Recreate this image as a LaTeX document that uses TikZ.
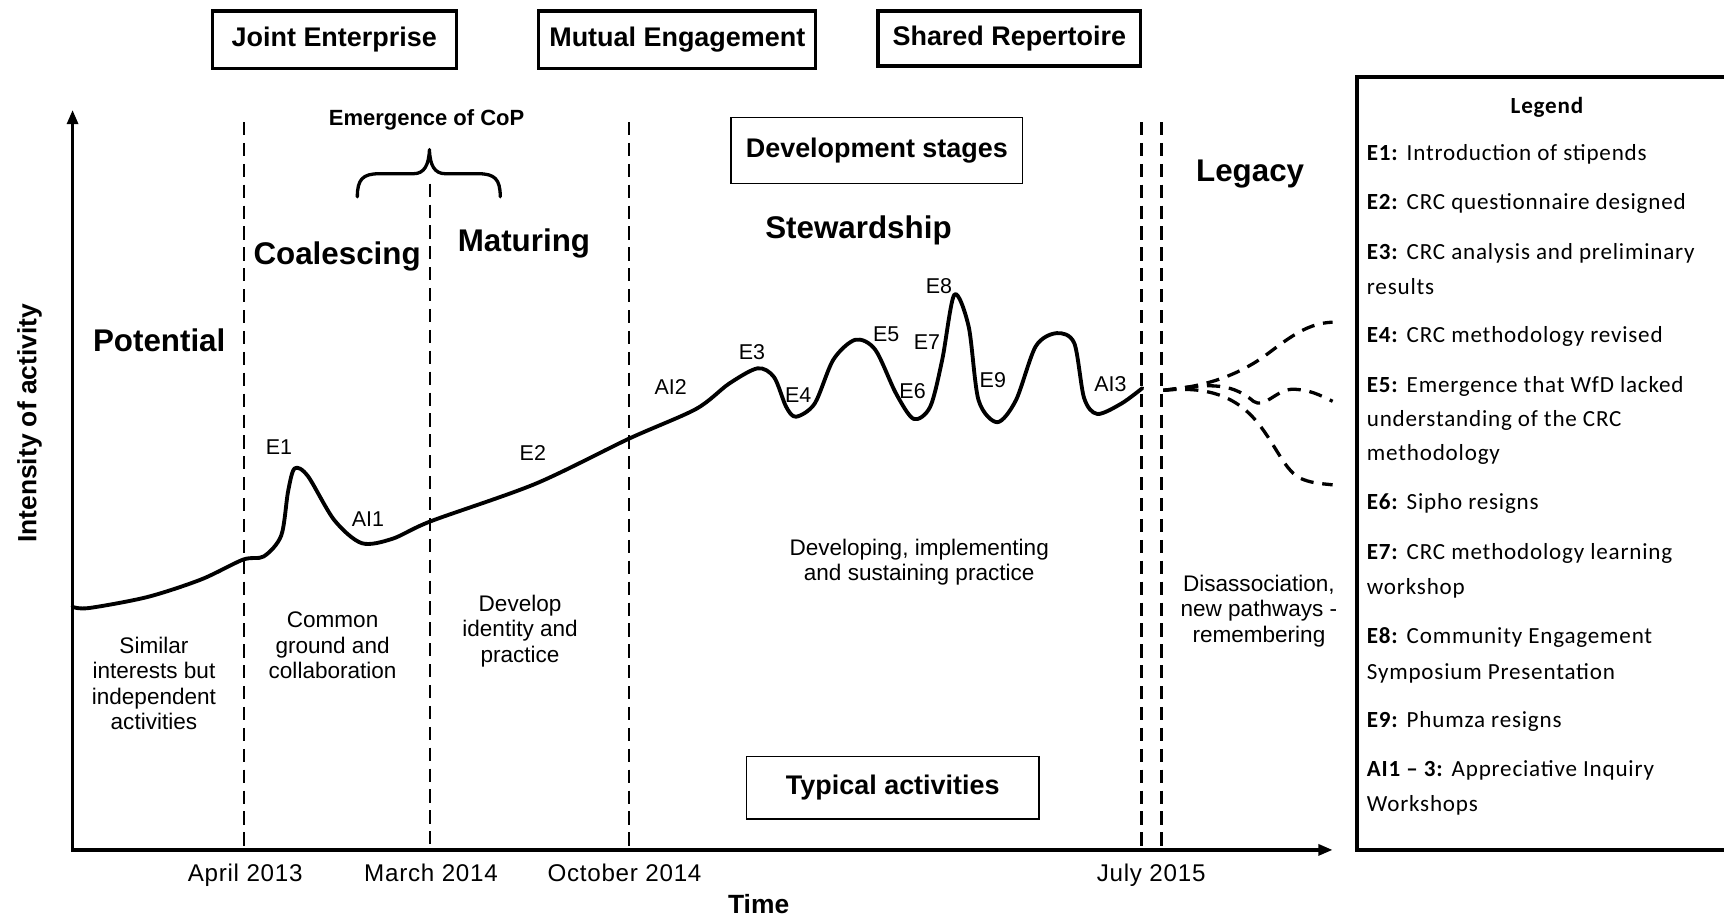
\documentclass[tikz,border=0pt]{standalone}
\usepackage{fontspec}
\setmainfont{Liberation Sans}
\newfontfamily\labelfont[LetterSpace=3]{Liberation Sans}
\newfontfamily\legendfont[LetterSpace=3.5]{Carlito}
\usetikzlibrary{arrows.meta}
\newcommand\fsz[2]{\fontsize{#1}{#2}\selectfont}

\begin{document}
\begin{tikzpicture}[x=1pt,y=-1pt,
  headbox/.style={draw, line width=3pt, font=\bfseries\fsz{24.5}{28}, inner sep=0pt, minimum height=52pt},
  infobox/.style={draw, line width=1.5pt, font=\bfseries\fsz{24.5}{28}, inner sep=0pt},
  stagelabel/.style={font=\bfseries\fsz{28.5}{32}, inner sep=0pt, anchor=base},
  eventlabel/.style={font=\fsz{19.5}{22}, inner sep=0pt, anchor=base},
  datelabel/.style={font=\labelfont\fsz{22}{24}, inner sep=0pt, anchor=base},
  axislabel/.style={font=\bfseries\fsz{24}{26}, inner sep=0pt, anchor=base},
  desc/.style={font=\fsz{20.5}{23.2}, align=center, inner sep=0pt, anchor=north},
  legendline/.style={font=\legendfont\fsz{21}{24}, inner sep=0pt, anchor=base west},
  stageline/.style={line width=2.5pt, dash pattern=on 12pt off 7pt},
  axis/.style={line width=3pt, line join=miter,
    {Triangle[length=13pt,width=10pt]}-{Triangle[length=13pt,width=10pt]}},
  activity/.style={line width=3.5pt, line join=round, line cap=round},
  pathway/.style={line width=3pt, dash pattern=on 12pt off 8pt},
]
\useasboundingbox (0,0) rectangle (1568,835);
\fill[white] (0,0) rectangle (1568,835);

% --- the three dimensions of a community of practice
\node[headbox, minimum width=222pt] (je) at (304,36) {Joint Enterprise};
\node[headbox, minimum width=252pt] (me) at (616,36) {Mutual Engagement};
\node[headbox, minimum width=239pt, minimum height=50pt] (sr) at (918,35) {Shared Repertoire};

% --- axes
\draw[axis] (66,100) -- (66,773) -- (1212,773);
\node[axislabel, rotate=90] (ylab) at (33,385) {Intensity of activity};
\node[axislabel] (xlab) at (690,831) {Time};

% --- stage boundaries
\draw[stageline] (222,111) -- (222,773);
\draw[stageline] (391,167) -- (391,773);
\draw[stageline] (572,111) -- (572,773);
\draw[stageline] (1038.5,111) -- (1038.5,773);
\draw[stageline] (1056.5,111) -- (1056.5,773);

\node[datelabel] (d1) at (223,802) {April 2013};
\node[datelabel] (d2) at (392,802) {March 2014};
\node[datelabel] (d3) at (568,802) {October 2014};
\node[datelabel] (d4) at (1047,802) {July 2015};

% --- emergence brace
\draw[line width=3pt, line cap=round, line join=round]
  (325,179) .. controls (325,163) and (330,158) .. (345,158) -- (376,158)
  .. controls (386,158) and (390,150) .. (390.6,136)
  .. controls (391,150) and (395,158) .. (405,158) -- (435,158)
  .. controls (450,158) and (455,163) .. (455,179);
\node[font=\bfseries\fsz{20}{22}, inner sep=0pt, anchor=base] (cop) at (388,113.7) {Emergence of CoP};

% --- stage names
\node[stagelabel] (potential) at (144.8,319.8) {Potential};
\node[stagelabel] (coalescing) at (306.6,241) {Coalescing};
\node[stagelabel] (maturing) at (476.5,229) {Maturing};
\node[stagelabel] (stewardship) at (780.8,216.7) {Stewardship};
\node[stagelabel] (legacy) at (1137,165) {Legacy};

\node[infobox, minimum width=265pt, minimum height=60pt] (devstages) at (797.5,137) {Development stages};
\node[infobox, minimum width=266pt, minimum height=57pt] (typical) at (812,716.5) {Typical activities};

% --- intensity of activity over time
\draw[activity] plot[smooth, tension=0.5] coordinates {
  (66,552) (81,553) (134,543) (183,527) (221,509) (240,506) (255.8,487)
  (262,447) (268,426) (280,433) (304,473) (329,494) (357,490) (392,474)
  (487,440) (572,399) (633,372) (663,349) (689,335) (704,343) (715,370)
  (724,379) (741,367) (758,327) (778,309) (796,318) (815,358) (831,381)
  (846,370) (857,327) (868,268) (881,297) (890,364) (907,384) (924,364)
  (942,315) (961,303) (977,312) (986,362) (998,376.5) (1020,367) (1039,353)};

% --- possible pathways after the community
\draw[pathway] (1058,355) .. controls (1090,352) and (1120,345) .. (1150,324)
  .. controls (1175,305) and (1190,294) .. (1212,293);
\draw[pathway] (1058,355) .. controls (1095,350) and (1118,346) .. (1140,365)
  .. controls (1150,372) and (1160,355) .. (1175,354)
  .. controls (1190,354) and (1200,359) .. (1212,365);
\draw[pathway] (1058,355) .. controls (1090,352) and (1118,356) .. (1140,380)
  .. controls (1160,402) and (1168,430) .. (1185,436)
  .. controls (1195,440) and (1205,440) .. (1212,441);

% --- event labels
\node[eventlabel] (e1) at (253.8,413.8) {E1};
\node[eventlabel] (ai1) at (334.6,479) {AI1};
\node[eventlabel] (e2) at (484.6,418.4) {E2};
\node[eventlabel] (ai2) at (610,359) {AI2};
\node[eventlabel] (e3) at (684,327) {E3};
\node[eventlabel] (e4) at (726,366) {E4};
\node[eventlabel] (e5) at (806,311) {E5};
\node[eventlabel] (e6) at (830,362) {E6};
\node[eventlabel] (e7) at (843,318) {E7};
\node[eventlabel] (e8) at (854,267) {E8};
\node[eventlabel] (e9) at (903,352) {E9};
\node[eventlabel] (ai3) at (1010,356) {AI3};

% --- typical activities of each stage
\node[desc] (act1) at (140,579) {Similar\\interests but\\independent\\activities};
\node[desc] (act2) at (302.5,556.5) {Common\\ground and\\collaboration};
\node[desc] (act3) at (473,541) {Develop\\identity and\\practice};
\node[desc, font=\fsz{20.5}{22.8}] (act4) at (836,490) {Developing, implementing\\and sustaining practice};
\node[desc, font=\fsz{20.5}{23}] (act5) at (1145,523) {Disassociation,\\new pathways -\\remembering};

% --- legend
\begin{scope}
  \clip (0,0) rectangle (1568,835);
  \draw[line width=3.5pt] (1234.5,70) rectangle (1600,773);
\end{scope}
\node[font=\legendfont\bfseries\fsz{21}{24}, inner sep=0pt, anchor=base] (legtitle) at (1407,102.8) {Legend};
\node[legendline] (l1) at (1243,145.8) {\textbf{E1:} Introduction of stipends};
\node[legendline] (l2) at (1243,190.3) {\textbf{E2:} CRC questionnaire designed};
\node[legendline] (l3) at (1243,235.8) {\textbf{E3:} CRC analysis and preliminary};
\node[legendline] (l3b) at (1243,267.8) {results};
\node[legendline] (l4) at (1243,311.8) {\textbf{E4:} CRC methodology revised};
\node[legendline] (l5) at (1243,356.8) {\textbf{E5:} Emergence that WfD lacked};
\node[legendline] (l5b) at (1243,387.8) {understanding of the CRC};
\node[legendline] (l5c) at (1243,418.8) {methodology};
\node[legendline] (l6) at (1243,463.8) {\textbf{E6:} Sipho resigns};
\node[legendline] (l7) at (1243,508.8) {\textbf{E7:} CRC methodology learning};
\node[legendline] (l7b) at (1243,540.8) {workshop};
\node[legendline] (l8) at (1243,585.3) {\textbf{E8:} Community Engagement};
\node[legendline] (l8b) at (1243,617.8) {Symposium Presentation};
\node[legendline] (l9) at (1243,661.8) {\textbf{E9:} Phumza resigns};
\node[legendline] (l10) at (1243,705.8) {\textbf{AI1 – 3:} Appreciative Inquiry};
\node[legendline] (l10b) at (1243,737.8) {Workshops};
\end{tikzpicture}
\end{document}
